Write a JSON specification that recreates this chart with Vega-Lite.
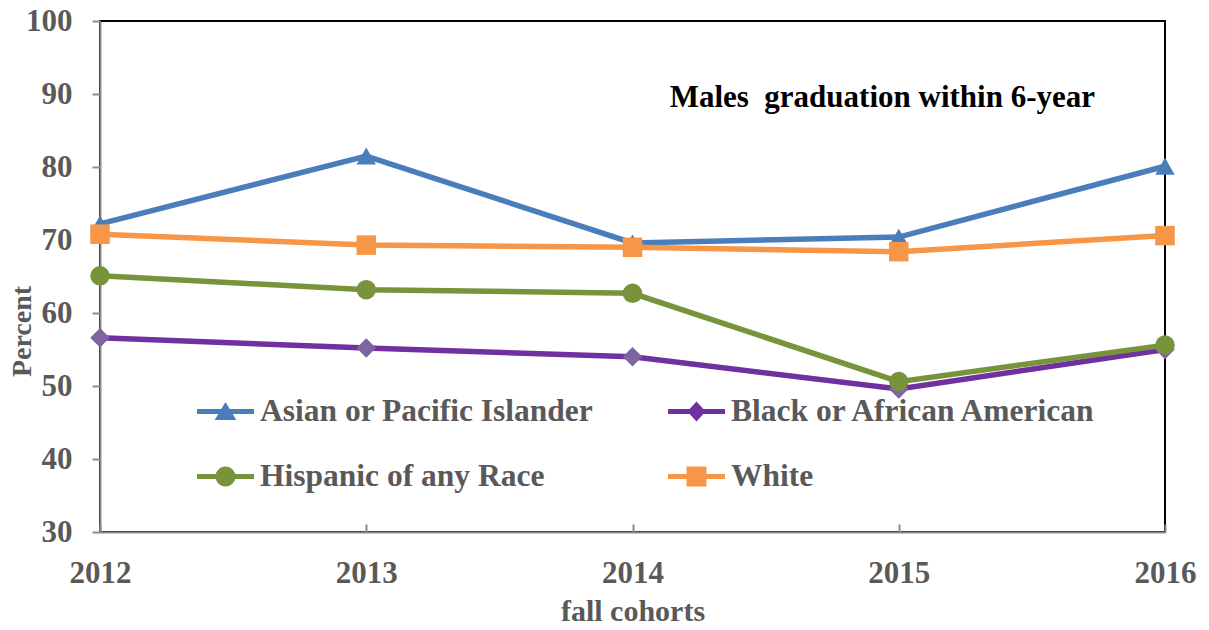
{
  "$schema": "https://vega.github.io/schema/vega-lite/v6.json",
  "width": 1065,
  "height": 511,
  "autosize": "none",
  "padding": {"left": 100, "top": 21, "right": 44, "bottom": 98},
  "background": "white",
  "config": {
    "view": {"stroke": "black", "strokeWidth": 2},
    "font": "Liberation Serif",
    "legend": {
      "title": null,
      "orient": "none",
      "direction": "vertical",
      "padding": 0,
      "symbolSize": 3249,
      "symbolStrokeWidth": 0,
      "symbolOpacity": 1,
      "labelFont": "Liberation Serif",
      "labelFontSize": 31.5,
      "labelFontWeight": "bold",
      "labelColor": "#595959",
      "labelOffset": 6,
      "labelLimit": 600
    }
  },
  "title": {
    "text": "Males\u00a0 graduation within 6-year",
    "orient": "top",
    "anchor": "end",
    "frame": "group",
    "offset": 0,
    "baseline": "bottom",
    "dx": -70,
    "dy": 140,
    "font": "Liberation Serif",
    "fontSize": 31,
    "fontWeight": "bold",
    "color": "black"
  },
  "data": {
    "values": [
      {"year": 2012, "series": "Asian or Pacific Islander", "value": 72.2},
      {"year": 2013, "series": "Asian or Pacific Islander", "value": 81.5},
      {"year": 2014, "series": "Asian or Pacific Islander", "value": 69.6},
      {"year": 2015, "series": "Asian or Pacific Islander", "value": 70.4},
      {"year": 2016, "series": "Asian or Pacific Islander", "value": 80.1},
      {"year": 2012, "series": "Black or African American", "value": 56.6},
      {"year": 2013, "series": "Black or African American", "value": 55.2},
      {"year": 2014, "series": "Black or African American", "value": 54.0},
      {"year": 2015, "series": "Black or African American", "value": 49.6},
      {"year": 2016, "series": "Black or African American", "value": 55.0},
      {"year": 2012, "series": "Hispanic of any Race", "value": 65.1},
      {"year": 2013, "series": "Hispanic of any Race", "value": 63.2},
      {"year": 2014, "series": "Hispanic of any Race", "value": 62.7},
      {"year": 2015, "series": "Hispanic of any Race", "value": 50.6},
      {"year": 2016, "series": "Hispanic of any Race", "value": 55.6},
      {"year": 2012, "series": "White", "value": 70.8},
      {"year": 2013, "series": "White", "value": 69.3},
      {"year": 2014, "series": "White", "value": 69.0},
      {"year": 2015, "series": "White", "value": 68.4},
      {"year": 2016, "series": "White", "value": 70.6}
    ]
  },
  "encoding": {
    "x": {
      "field": "year",
      "type": "quantitative",
      "scale": {"domain": [2012, 2016], "nice": false, "zero": false},
      "axis": {
        "title": "fall cohorts",
        "values": [2012, 2013, 2014, 2015, 2016],
        "format": "d",
        "grid": false,
        "domainColor": "#8c8c8c",
        "domainWidth": 2,
        "tickColor": "#8c8c8c",
        "tickWidth": 2,
        "tickSize": -8,
        "labelFont": "Liberation Serif",
        "labelFontSize": 31,
        "labelFontWeight": "bold",
        "labelColor": "#595959",
        "labelPadding": 34,
        "labelFlush": false,
        "titleFont": "Liberation Serif",
        "titleFontSize": 30,
        "titleFontWeight": "bold",
        "titleColor": "#595959",
        "titlePadding": 8
      }
    },
    "y": {
      "field": "value",
      "type": "quantitative",
      "scale": {"domain": [30, 100], "nice": false, "zero": false},
      "axis": {
        "title": "Percent",
        "values": [30, 40, 50, 60, 70, 80, 90, 100],
        "grid": false,
        "domainColor": "#8c8c8c",
        "domainWidth": 2,
        "tickColor": "#8c8c8c",
        "tickWidth": 2,
        "tickSize": 8,
        "labelFont": "Liberation Serif",
        "labelFontSize": 31,
        "labelFontWeight": "bold",
        "labelColor": "#595959",
        "labelPadding": 20,
        "titleFont": "Liberation Serif",
        "titleFontSize": 28,
        "titleFontWeight": "bold",
        "titleColor": "#595959",
        "titleX": -78,
        "titleY": 310,
        "titleAngle": -90,
        "titleBaseline": "middle",
        "titleAlign": "center"
      }
    }
  },
  "layer": [
    {
      "mark": {"type": "line", "strokeWidth": 5.5},
      "encoding": {
        "color": {
          "field": "series",
          "type": "nominal",
          "scale": {
            "domain": ["Asian or Pacific Islander", "Black or African American", "Hispanic of any Race", "White"],
            "range": ["#4A7EBB", "#7030A0", "#77933C", "#F79646"]
          },
          "legend": null
        }
      }
    },
    {
      "transform": [{"filter": {"field": "series", "equal": "Asian or Pacific Islander"}}],
      "mark": {"type": "point", "filled": true, "opacity": 1, "size": 380, "strokeWidth": 0, "shape": "triangle-up", "color": "#4A7EBB"}
    },
    {
      "transform": [{"filter": {"field": "series", "equal": "Black or African American"}}],
      "mark": {"type": "point", "filled": true, "opacity": 1, "size": 380, "strokeWidth": 0, "shape": "diamond", "color": "#8064A2"}
    },
    {
      "transform": [{"filter": {"field": "series", "equal": "Hispanic of any Race"}}],
      "mark": {"type": "point", "filled": true, "opacity": 1, "size": 380, "strokeWidth": 0, "shape": "circle", "color": "#77933C"}
    },
    {
      "transform": [{"filter": {"field": "series", "equal": "White"}}],
      "mark": {"type": "point", "filled": true, "opacity": 1, "size": 380, "strokeWidth": 0, "shape": "square", "color": "#F79646"}
    },
    {
      "transform": [{"filter": {"field": "series", "equal": "Asian or Pacific Islander"}}],
      "mark": {"type": "point", "filled": true, "opacity": 0, "size": 10, "strokeWidth": 0, "color": "#4A7EBB"},
      "encoding": {
        "shape": {
          "field": "series",
          "type": "nominal",
          "scale": {
            "domain": ["Asian or Pacific Islander"],
            "range": ["M-1,-0.09 H1 V0.09 H-1 Z M0,-0.33 L0.38,0.3 L-0.38,0.3 Z"]
          },
          "legend": {"legendX": 97, "legendY": 362, "encode": {"symbols": {"update": {"opacity": {"value": 1}, "fill": {"value": "#4A7EBB"}}}}}
        }
      }
    },
    {
      "transform": [{"filter": {"field": "series", "equal": "Black or African American"}}],
      "mark": {"type": "point", "filled": true, "opacity": 0, "size": 10, "strokeWidth": 0, "color": "#7030A0"},
      "encoding": {
        "shape": {
          "field": "series",
          "type": "nominal",
          "scale": {
            "domain": ["Black or African American"],
            "range": ["M-1,-0.09 H1 V0.09 H-1 Z M0,-0.35 L0.32,0 L0,0.35 L-0.32,0 Z"]
          },
          "legend": {"legendX": 568, "legendY": 362, "encode": {"symbols": {"update": {"opacity": {"value": 1}, "fill": {"value": "#7030A0"}}}}}
        }
      }
    },
    {
      "transform": [{"filter": {"field": "series", "equal": "Hispanic of any Race"}}],
      "mark": {"type": "point", "filled": true, "opacity": 0, "size": 10, "strokeWidth": 0, "color": "#77933C"},
      "encoding": {
        "shape": {
          "field": "series",
          "type": "nominal",
          "scale": {
            "domain": ["Hispanic of any Race"],
            "range": ["M-1,-0.09 H1 V0.09 H-1 Z M0.35,0 A0.35,0.35 0 1,1 -0.35,0 A0.35,0.35 0 1,1 0.35,0 Z"]
          },
          "legend": {"legendX": 97, "legendY": 427, "encode": {"symbols": {"update": {"opacity": {"value": 1}, "fill": {"value": "#77933C"}}}}}
        }
      }
    },
    {
      "transform": [{"filter": {"field": "series", "equal": "White"}}],
      "mark": {"type": "point", "filled": true, "opacity": 0, "size": 10, "strokeWidth": 0, "color": "#F79646"},
      "encoding": {
        "shape": {
          "field": "series",
          "type": "nominal",
          "scale": {
            "domain": ["White"],
            "range": ["M-1,-0.09 H1 V0.09 H-1 Z M-0.35,-0.35 H0.35 V0.35 H-0.35 Z"]
          },
          "legend": {"legendX": 568, "legendY": 427, "encode": {"symbols": {"update": {"opacity": {"value": 1}, "fill": {"value": "#F79646"}}}}}
        }
      }
    }
  ],
  "resolve": {"scale": {"shape": "independent"}, "legend": {"shape": "independent"}}
}
